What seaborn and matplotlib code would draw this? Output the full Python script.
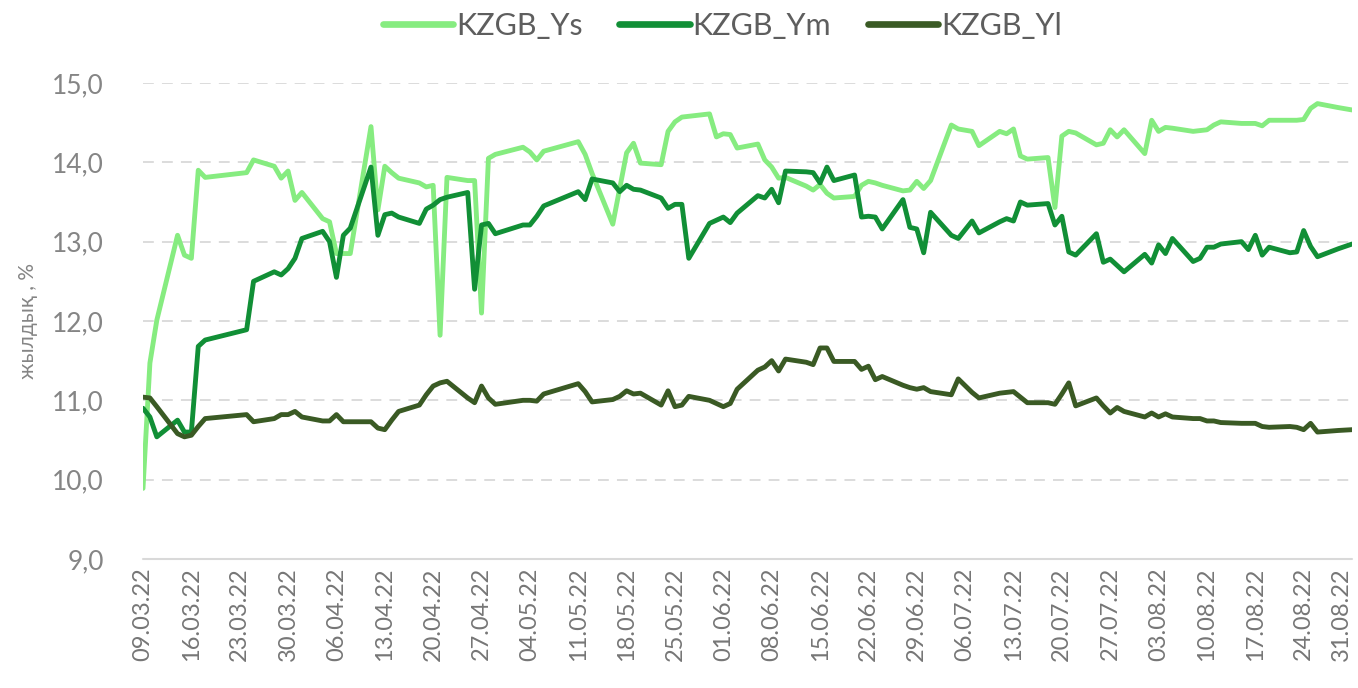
"""
KZGB yield curve components, March - August 2022.
"""

import matplotlib

matplotlib.use("Agg")

import matplotlib.pyplot as plt
import matplotlib.dates as mdates
from matplotlib.ticker import FuncFormatter
import pandas as pd
import seaborn as sns


# Trading days (holidays 21-23.03, 02.05, 09-10.05, 06.07, 30.08 are absent)
DATES = [
    "09.03.22", "10.03.22", "11.03.22", "14.03.22", "15.03.22", "16.03.22", "17.03.22",
    "18.03.22", "24.03.22", "25.03.22", "28.03.22", "29.03.22", "30.03.22", "31.03.22",
    "01.04.22", "04.04.22", "05.04.22", "06.04.22", "07.04.22", "08.04.22", "11.04.22",
    "12.04.22", "13.04.22", "14.04.22", "15.04.22", "18.04.22", "19.04.22", "20.04.22",
    "21.04.22", "22.04.22", "25.04.22", "26.04.22", "27.04.22", "28.04.22", "29.04.22",
    "03.05.22", "04.05.22", "05.05.22", "06.05.22", "11.05.22", "12.05.22", "13.05.22",
    "16.05.22", "17.05.22", "18.05.22", "19.05.22", "20.05.22", "23.05.22", "24.05.22",
    "25.05.22", "26.05.22", "27.05.22", "30.05.22", "31.05.22",
    "01.06.22", "02.06.22", "03.06.22", "06.06.22", "07.06.22", "08.06.22", "09.06.22",
    "10.06.22", "13.06.22", "14.06.22", "15.06.22", "16.06.22", "17.06.22", "20.06.22",
    "21.06.22", "22.06.22", "23.06.22", "24.06.22", "27.06.22", "28.06.22", "29.06.22",
    "30.06.22",
    "01.07.22", "04.07.22", "05.07.22", "07.07.22", "08.07.22", "11.07.22", "12.07.22",
    "13.07.22", "14.07.22", "15.07.22", "18.07.22", "19.07.22", "20.07.22", "21.07.22",
    "22.07.22", "25.07.22", "26.07.22", "27.07.22", "28.07.22", "29.07.22",
    "01.08.22", "02.08.22", "03.08.22", "04.08.22", "05.08.22", "08.08.22", "09.08.22",
    "10.08.22", "11.08.22", "12.08.22", "15.08.22", "16.08.22", "17.08.22", "18.08.22",
    "19.08.22", "22.08.22", "23.08.22", "24.08.22", "25.08.22", "26.08.22", "29.08.22",
    "31.08.22",
]

KZGB_YS = [
    9.89, 11.47, 12.01, 13.08, 12.83, 12.79, 13.90, 13.81, 13.87, 14.03, 13.95, 13.80, 13.89, 13.52,
    13.62, 13.29, 13.25, 12.85, 12.85, 12.85, 14.45, 13.40, 13.95, 13.87, 13.80, 13.74, 13.69, 13.71,
    11.82, 13.81, 13.77, 13.77, 12.10, 14.05, 14.10,
    14.19, 14.13, 14.03, 14.14, 14.26, 14.10, 13.86, 13.22, 13.67, 14.12, 14.24, 13.99, 13.97, 14.39,
    14.51, 14.57, 14.58, 14.61, 14.32,
    14.36, 14.35, 14.18, 14.23, 14.03, 13.94, 13.80, 13.81, 13.70, 13.65, 13.72, 13.61, 13.55, 13.57,
    13.71, 13.76, 13.74, 13.71, 13.64, 13.65, 13.76, 13.67,
    13.77, 14.47, 14.42, 14.39, 14.21, 14.39, 14.36, 14.42, 14.08, 14.04, 14.06, 13.43, 14.33, 14.39,
    14.37, 14.22, 14.24, 14.41, 14.32, 14.41,
    14.11, 14.53, 14.39, 14.44, 14.43, 14.39, 14.40, 14.41, 14.47, 14.51, 14.49, 14.49, 14.49, 14.46,
    14.53, 14.53, 14.53, 14.54, 14.68, 14.74, 14.69, 14.66,
]

KZGB_YM = [
    10.90, 10.79, 10.54, 10.75, 10.60, 10.60, 11.68, 11.76, 11.89, 12.50, 12.62, 12.58, 12.66, 12.79,
    13.04, 13.13, 13.00, 12.55, 13.08, 13.17, 13.94, 13.08, 13.34, 13.36, 13.31, 13.23, 13.41, 13.46,
    13.53, 13.56, 13.62, 12.40, 13.21, 13.23, 13.10,
    13.21, 13.21, 13.32, 13.45, 13.63, 13.53, 13.79, 13.74, 13.63, 13.71, 13.66, 13.65, 13.55, 13.42,
    13.47, 13.47, 12.79, 13.23, 13.27,
    13.31, 13.24, 13.36, 13.58, 13.55, 13.66, 13.49, 13.89, 13.88, 13.87, 13.74, 13.94, 13.77, 13.84,
    13.31, 13.32, 13.31, 13.16, 13.53, 13.18, 13.16, 12.86,
    13.37, 13.08, 13.04, 13.26, 13.11, 13.25, 13.29, 13.26, 13.50, 13.46, 13.48, 13.21, 13.32, 12.87,
    12.83, 13.10, 12.74, 12.78, 12.70, 12.62,
    12.84, 12.73, 12.96, 12.85, 13.04, 12.75, 12.79, 12.93, 12.93, 12.97, 13.00, 12.90, 13.08, 12.83,
    12.93, 12.86, 12.87, 13.14, 12.94, 12.81, 12.91, 12.97,
]

KZGB_YL = [
    11.04, 11.03, 10.92, 10.58, 10.54, 10.56, 10.67, 10.77, 10.82, 10.73, 10.77, 10.82, 10.82, 10.86,
    10.79, 10.74, 10.74, 10.82, 10.73, 10.73, 10.73, 10.65, 10.63, 10.75, 10.86, 10.94, 11.07, 11.18,
    11.22, 11.24, 11.03, 10.97, 11.18, 11.03, 10.95,
    11.00, 11.00, 10.99, 11.08, 11.21, 11.11, 10.98, 11.01, 11.05, 11.12, 11.08, 11.09, 10.94, 11.12,
    10.92, 10.94, 11.05, 11.00, 10.96,
    10.92, 10.96, 11.14, 11.38, 11.42, 11.50, 11.37, 11.52, 11.48, 11.45, 11.66, 11.66, 11.49, 11.49,
    11.39, 11.43, 11.26, 11.30, 11.19, 11.16, 11.14, 11.16,
    11.11, 11.07, 11.27, 11.10, 11.03, 11.09, 11.10, 11.11, 11.04, 10.97, 10.97, 10.95, 11.08, 11.22,
    10.93, 11.03, 10.93, 10.84, 10.91, 10.86,
    10.79, 10.84, 10.79, 10.83, 10.79, 10.77, 10.77, 10.74, 10.74, 10.72, 10.71, 10.71, 10.71, 10.67,
    10.66, 10.67, 10.66, 10.63, 10.71, 10.60, 10.62, 10.63,
]

SERIES_NAMES = ["KZGB_Ys", "KZGB_Ym", "KZGB_Yl"]
SERIES_COLORS = ["#86EC80", "#118F36", "#3A5A24"]

Y_TICKS = [9, 10, 11, 12, 13, 14, 15]
Y_LABEL = "жылдық , %"


def build_dataframe() -> pd.DataFrame:
    wide = pd.DataFrame({
        "date": pd.to_datetime(DATES, format="%d.%m.%y"),
        "KZGB_Ys": KZGB_YS,
        "KZGB_Ym": KZGB_YM,
        "KZGB_Yl": KZGB_YL,
    })
    return wide.melt(id_vars="date", var_name="series", value_name="value")


def main() -> None:
    df = build_dataframe()

    sns.set_style("white")
    plt.rcParams["font.family"] = ["Lato", "DejaVu Sans"]

    fig = plt.figure(figsize=(13.58, 6.88), dpi=100)
    ax = fig.add_axes([0.1053, 0.1875, 0.8903, 0.6919])

    sns.lineplot(
        data=df,
        x="date",
        y="value",
        hue="series",
        hue_order=SERIES_NAMES,
        palette=SERIES_COLORS,
        linewidth=3.5,
        ax=ax,
    )
    for line in ax.get_lines():
        line.set_solid_capstyle("round")
        line.set_solid_joinstyle("round")

    # grid
    for v in Y_TICKS[1:]:
        ax.axhline(v, color="#D9D9D9", linewidth=1.3, linestyle=(0, (6, 4.5)),
                   zorder=0)
    ax.axhline(Y_TICKS[0], color="#D9D9D9", linewidth=1.5, zorder=0, clip_on=False)

    first = pd.to_datetime(DATES[0], format="%d.%m.%y")
    last = pd.to_datetime(DATES[-1], format="%d.%m.%y")
    ax.set_xlim(first, last)
    ax.set_ylim(9, 15)

    ax.set_xticks(pd.date_range(first, last, freq="7D"))
    ax.xaxis.set_major_formatter(mdates.DateFormatter("%d.%m.%y"))
    ax.set_yticks(Y_TICKS)
    ax.yaxis.set_major_formatter(
        FuncFormatter(lambda v, _: f"{v:.1f}".replace(".", ","))
    )
    ax.tick_params(axis="x", labelrotation=90, labelsize=17, colors="#767676",
                   length=0, pad=6)
    ax.tick_params(axis="y", labelsize=19, colors="#858585", length=0, pad=28)

    # keep the last date label inside the picture
    xlabels = ax.get_xticklabels()
    xlabels[-1].set_horizontalalignment("right")

    for spine in ax.spines.values():
        spine.set_visible(False)

    ax.set_xlabel("")
    ax.set_ylabel(Y_LABEL, fontsize=15, color="#858585", labelpad=10)

    handles, labels = ax.get_legend_handles_labels()
    ax.get_legend().remove()
    leg = fig.legend(
        handles,
        labels,
        loc="center",
        bbox_to_anchor=(0.532, 0.962),
        ncol=3,
        frameon=False,
        fontsize=22,
        handlelength=2.3,
        handletextpad=0.1,
        columnspacing=1.2,
        labelcolor="#5E5E5E",
    )
    for h in leg.get_lines():
        h.set_linewidth(4.8)
        h.set_solid_capstyle("round")

    fig.savefig("out.png", dpi=100)


if __name__ == "__main__":
    main()
